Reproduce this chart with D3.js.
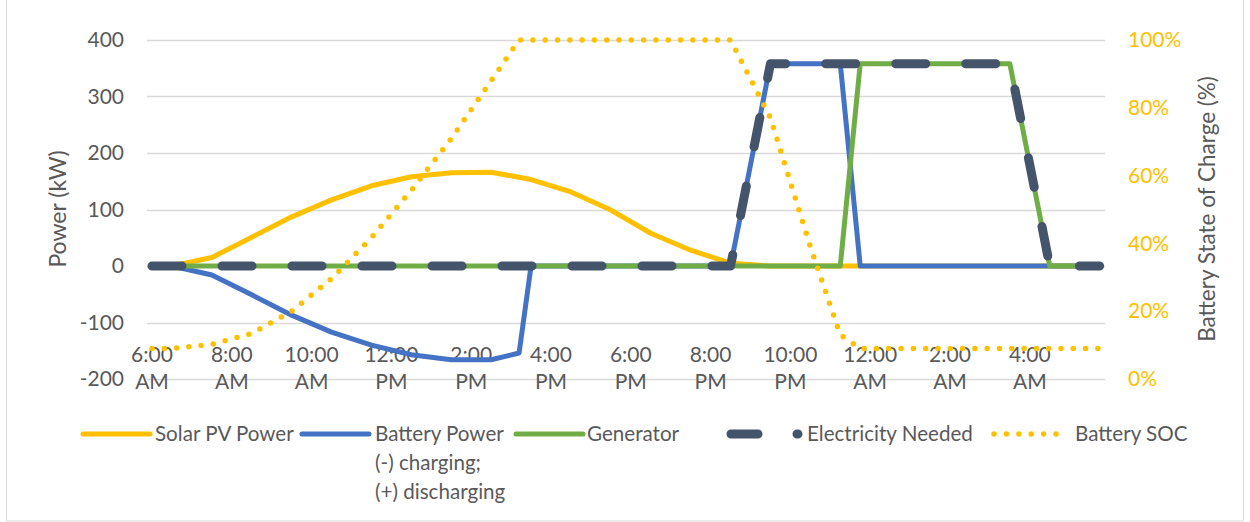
<!DOCTYPE html>
<html>
<head>
<meta charset="utf-8">
<script src="https://cdn.jsdelivr.net/npm/d3@7"></script>
<style>
  html, body { margin: 0; padding: 0; background: #ffffff; }
  svg { display: block; font-family: "Lato", "Open Sans", sans-serif; }
</style>
</head>
<body>
<svg id="chart" width="1250" height="522"></svg>
<script>
// ---------------- data ----------------
// time of day in hours (values above 24 are the next morning)
const hours = [6, 6.5, 7.5, 8.5, 9.5, 10.5, 11.5, 12.5, 13.5, 14.5, 15.2, 15.5, 16.5, 17.5, 18.5, 19.5,
               20.5, 21.5, 22.5, 23.25, 23.75, 24.5, 25.5, 26.5, 27.5, 28.5, 29.5, 29.75];
const solarPV   = [0, 0, 15, 51, 87, 117, 142, 158, 165, 166, 157, 153, 131, 99, 58, 28,
                   5, 0, 0, 0, 0, 0, 0, 0, 0, 0, 0, 0];
const batteryPw = [0, 0, -16, -51, -87, -117, -140, -157, -166, -166, -154, 0, 0, 0, 0, 0,
                   0, 358, 358, 358, 0, 0, 0, 0, 0, 0, 0, 0];
const generator = [0, 0, 0, 0, 0, 0, 0, 0, 0, 0, 0, 0, 0, 0, 0, 0,
                   0, 0, 0, 0, 358, 358, 358, 358, 358, 0, 0, 0];
const needed    = [0, 0, 0, 0, 0, 0, 0, 0, 0, 0, 0, 0, 0, 0, 0, 0,
                   0, 358, 358, 358, 358, 358, 358, 358, 358, 0, 0, 0];
const batterySOC = [9, 9, 10.2, 13.4, 20, 29.6, 41.7, 55.7, 70.9, 88, 100, 100, 100, 100, 100, 100,
                    100, 77, 39, 13, 9, 9, 9, 9, 9, 9, 9, 9];

const tickHours  = [6, 8, 10, 12, 14, 16, 18, 20, 22, 24, 26, 28];
const tickLabels = ["6:00 AM", "8:00 AM", "10:00 AM", "12:00 PM", "2:00 PM", "4:00 PM",
                    "6:00 PM", "8:00 PM", "10:00 PM", "12:00 AM", "2:00 AM", "4:00 AM"];
const powerTicks = [-200, -100, 0, 100, 200, 300, 400];
const socTicks   = [0, 20, 40, 60, 80, 100];

const seriesNames = ["Solar PV Power", "Battery Power", "Generator", "Electricity Needed", "Battery SOC"];

// ---------------- layout ----------------
const svg = d3.select("#chart");
const plotLeft = 147, plotRight = 1105, plotTop = 40, plotBottom = 379;
const textColor = "#595959";
const gridColor = "#D9D9D9";
const colors = {solar: "#FFC000", battery: "#4472C4", gen: "#70AD47", need: "#44546A", soc: "#FFC000"};

const x = d3.scaleLinear().domain([6, 30]).range([152, 1109.6]);
const y = d3.scaleLinear().domain([-200, 400]).range([plotBottom, plotTop]);
const y2 = d3.scaleLinear().domain([0, 100]).range([plotBottom, plotTop]);

// chart border
svg.append("rect").attr("x", 6.5).attr("y", -2).attr("width", 1237).attr("height", 523)
  .attr("fill", "none").attr("stroke", gridColor).attr("stroke-width", 1);

// gridlines
svg.append("g").selectAll("line").data(powerTicks).join("line")
  .attr("x1", plotLeft).attr("x2", plotRight)
  .attr("y1", d => Math.round(y(d)) + 0.5).attr("y2", d => Math.round(y(d)) + 0.5)
  .attr("stroke", gridColor).attr("stroke-width", 1.3);

// left axis
const leftAxis = d3.axisLeft(y).tickValues(powerTicks).tickSize(0).tickPadding(0)
  .tickFormat(d => String(d));
const gl = svg.append("g").attr("transform", "translate(124,0)").call(leftAxis);
gl.select(".domain").remove();
gl.selectAll("text").attr("fill", textColor).style("font-size", "21px").style("font-family", "Lato");

// right axis
const rightAxis = d3.axisRight(y2).tickValues(socTicks).tickSize(0).tickPadding(0).tickFormat(d => d + "%");
const gr = svg.append("g").attr("transform", "translate(1128,0)").call(rightAxis);
gr.select(".domain").remove();
gr.selectAll("text").attr("fill", colors.soc).style("font-size", "21px").style("font-family", "Lato");

// x axis labels (two lines)
const gx = svg.append("g");
tickHours.forEach((h, i) => {
  const parts = tickLabels[i].split(" ");
  const t = gx.append("text").attr("text-anchor", "middle").attr("fill", textColor)
    .style("font-size", "21px");
  t.append("tspan").attr("x", x(h)).attr("y", 355).attr("dy", "0.35em").text(parts[0]);
  t.append("tspan").attr("x", x(h)).attr("y", 382).attr("dy", "0.35em").text(parts[1]);
});

// axis titles
svg.append("text").attr("transform", "translate(58,209) rotate(-90)")
  .attr("text-anchor", "middle").attr("dy", "0.35em").attr("fill", textColor)
  .style("font-size", "23px").text("Power (kW)");
svg.append("text").attr("transform", "translate(1207,209) rotate(-90)")
  .attr("text-anchor", "middle").attr("dy", "0.35em").attr("fill", textColor)
  .style("font-size", "22.5px").text("Battery State of Charge (%)");

// ---------------- series ----------------
const lineP = vals => d3.line().x((d, i) => x(hours[i])).y(d => y(d))(vals);
const lineS = vals => d3.line().x((d, i) => x(hours[i])).y(d => y2(d))(vals);

const gs = svg.append("g");
gs.append("path").attr("d", lineP(solarPV)).attr("fill", "none").attr("stroke", colors.solar)
  .attr("stroke-width", 5).attr("stroke-linejoin", "round").attr("stroke-linecap", "round");
gs.append("path").attr("d", lineP(batteryPw)).attr("fill", "none").attr("stroke", colors.battery)
  .attr("stroke-width", 5).attr("stroke-linejoin", "round").attr("stroke-linecap", "round");
gs.append("path").attr("d", lineP(generator)).attr("fill", "none").attr("stroke", colors.gen)
  .attr("stroke-width", 5).attr("stroke-linejoin", "round").attr("stroke-linecap", "round");
gs.append("path").attr("d", lineP(needed)).attr("fill", "none").attr("stroke", colors.need)
  .attr("stroke-width", 9).attr("stroke-linejoin", "round").attr("stroke-linecap", "round")
  .attr("stroke-dasharray", "30,40");
gs.append("path").attr("d", lineS(batterySOC)).attr("fill", "none").attr("stroke", colors.soc)
  .attr("stroke-width", 5.5).attr("stroke-linecap", "round").attr("stroke-dasharray", "0,12.3");

// ---------------- legend ----------------
const legendY = 434;
const legendItems = [
  {name: seriesNames[0], x0: 83,  tx: 155,  color: colors.solar,   w: 5,   dash: null},
  {name: seriesNames[1], x0: 302, tx: 375,  color: colors.battery, w: 5,   dash: null},
  {name: seriesNames[2], x0: 516, tx: 587,  color: colors.gen,     w: 5,   dash: null},
  {name: seriesNames[3], x0: 731, tx: 807,  color: colors.need,    w: 9,   dash: "27,39"},
  {name: seriesNames[4], x0: 994, tx: 1075, color: colors.soc,     w: 5.5, dash: "0,12.4"}
];
const sampleLen = [67, 67, 67, 67, 62];
const gleg = svg.append("g");
legendItems.forEach((it, i) => {
  gleg.append("line").attr("x1", it.x0).attr("x2", it.x0 + sampleLen[i])
    .attr("y1", legendY).attr("y2", legendY)
    .attr("stroke", it.color).attr("stroke-width", it.w).attr("stroke-linecap", "round")
    .attr("stroke-dasharray", it.dash);
  gleg.append("text").attr("x", it.tx).attr("y", legendY).attr("dy", "0.35em")
    .attr("fill", textColor).style("font-size", "20.6px").text(it.name);
  if (i === 1) {
    gleg.append("text").attr("x", it.tx).attr("y", legendY + 29).attr("dy", "0.35em")
      .attr("fill", textColor).style("font-size", "20.6px").text("(-) charging;");
    gleg.append("text").attr("x", it.tx).attr("y", legendY + 58).attr("dy", "0.35em")
      .attr("fill", textColor).style("font-size", "20.6px").text("(+) discharging");
  }
});
</script>
</body>
</html>
